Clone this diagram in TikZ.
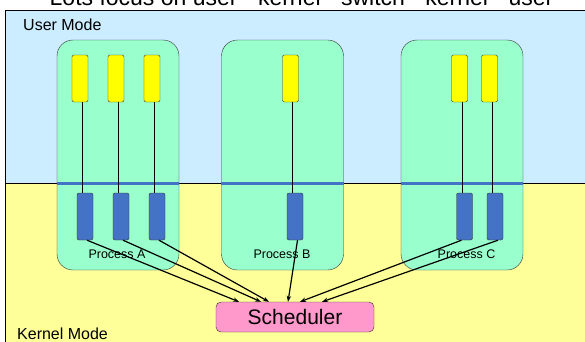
\documentclass[tikz,border=0pt]{standalone}
\usepackage{fontspec}
\setmainfont{Liberation Sans}
\usetikzlibrary{calc,arrows.meta}

\definecolor{userbg}{HTML}{CCECFF}
\definecolor{kernelbg}{HTML}{FFFF99}
\definecolor{procgreen}{HTML}{99FFCC}
\definecolor{uyellow}{HTML}{FFFF00}
\definecolor{kblue}{HTML}{4472C4}
\definecolor{schedpink}{HTML}{FF99CC}

\tikzset{
  proc/.style={draw=black!80, fill=procgreen, rounded corners=16pt,
    minimum width=122pt, minimum height=230pt, inner sep=0pt},
  uthread/.style={draw=black!80, fill=uyellow, rounded corners=2pt,
    minimum width=16pt, minimum height=47pt, inner sep=0pt},
  kthread/.style={uthread, fill=kblue},
  modesep/.style={kblue, line width=3pt},
  tolink/.style={line width=0.7pt},
  tosched/.style={line width=1.2pt, -{Stealth[length=6pt,width=4.5pt]}},
  modelabel/.style={font=\fontsize{16}{16}\selectfont, inner sep=0pt},
  proclabel/.style={font=\fontsize{12.5}{12.5}\selectfont, inner sep=0pt},
  sched/.style={draw=black!80, fill=schedpink, rounded corners=5pt,
    minimum width=158pt, minimum height=30pt, inner sep=0pt,
    font=\fontsize{21}{21}\selectfont},
}

\begin{document}
\begin{tikzpicture}[x=1pt,y=-1pt]
  \useasboundingbox (0,0) rectangle (585,341);

  % title, cut off by the top edge
  \node[anchor=base, inner sep=0pt, font=\fontsize{23}{23}\selectfont] (title) at (301.5,5)
    {Lots focus on user - kernel - switch - kernel - user};

  % user and kernel areas
  \fill[userbg] (5,10) rectangle (590,183);
  \fill[kernelbg] (5,183) rectangle (590,345);
  \draw (590,10) -- (5,10) -- (5,345);
  \draw (5,183) -- (590,183);

  \node[modelabel, anchor=base west] (usermode) at (23,30) {User Mode};
  \node[modelabel, anchor=base west] (kernelmode) at (17,339.5) {Kernel Mode};

  % processes
  \node[proc] (pa) at (118,155) {};
  \node[proc] (pb) at (282.5,155) {};
  \node[proc] (pc) at (462,155) {};

  \foreach \p in {pa,pb,pc}
  {
       \draw[modesep] (\p.west |- 0,183) -- (\p.east |- 0,183);
  }

  % user threads and their kernel threads
  \foreach \n/\ux/\kx in {a1/80/85, a2/116/121, a3/152/157, b1/290.5/295, c1/459.5/464.5, c2/489.5/495}
  {
       \node[uthread] (u\n) at (\ux,78.5) {};
       \node[kthread] (k\n) at (\kx,216.5) {};
       \draw[tolink] ($(u\n.south)!.5!(u\n.south -| k\n.south)$) -- ($(k\n.north)!.5!(k\n.north -| u\n.north)$);
  }

  \node[proclabel] (la) at (117,254) {Process A};
  \node[proclabel] (lb) at (282,254) {Process B};
  \node[proclabel] (lc) at (466.5,254) {Process C};

  % scheduler
  \node[sched] (sched) at (295,317) {Scheduler};

  \foreach \n/\sx/\dx in {a1/2/-56, a2/2/-34, a3/2/-26, b1/2.5/-7, c1/-3/5, c2/3/27}
  {
       \draw[tosched] ($(k\n.south)+(\sx,0)$) -- ($(sched.north)+(\dx,0)$);
  }
\end{tikzpicture}
\end{document}
